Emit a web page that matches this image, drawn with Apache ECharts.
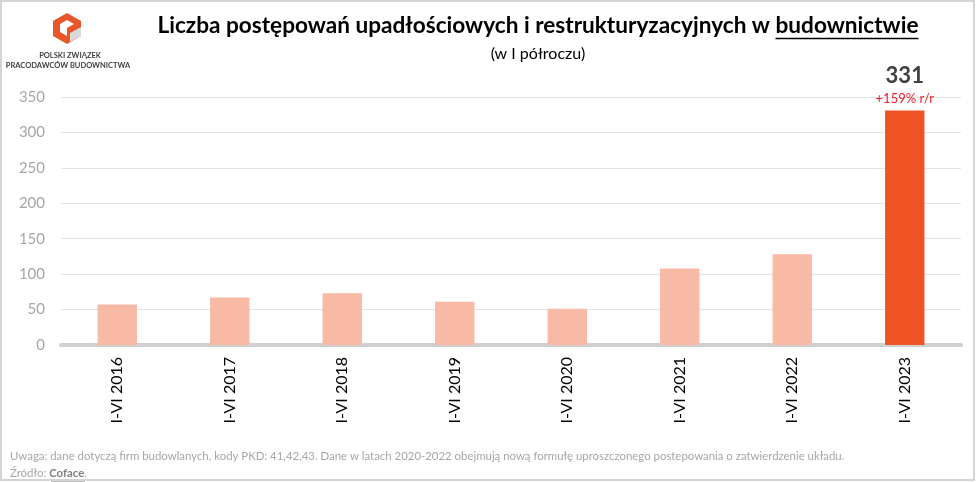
<!DOCTYPE html>
<html lang="pl">
<head>
<meta charset="UTF-8">
<title>Postępowania upadłościowe w budownictwie</title>
<script src="https://cdn.jsdelivr.net/npm/echarts@6/dist/echarts.min.js"></script>
<style>
  html, body { margin: 0; padding: 0; background: #fff; }
  #main { width: 976px; height: 482px; }
</style>
</head>
<body>
<div id="main"></div>
<script>
// dane
var kategorie = ['I-VI 2016', 'I-VI 2017', 'I-VI 2018', 'I-VI 2019', 'I-VI 2020', 'I-VI 2021', 'I-VI 2022', 'I-VI 2023'];
var wartosci = [57, 67, 73, 61, 51, 108, 128, 331];
var zmiana = '+159% r/r';
var osY = { min: 0, max: 350, interval: 50 };

var FONT = 'Lato, "Open Sans", sans-serif';
var TYTUL_A = 'Liczba postępowań upadłościowych i restrukturyzacyjnych w ';
var TYTUL_B = 'budownictwie';
var TYTUL_FONT = 'bold 22.6px ' + FONT;

// szerokosci tekstu do podkreslenia
var ctx = document.createElement('canvas').getContext('2d');
ctx.font = TYTUL_FONT;
var wA = ctx.measureText(TYTUL_A).width;
var wB = ctx.measureText(TYTUL_B).width;
var x0 = 538 - (wA + wB) / 2;

var dane = wartosci.map(function (v, i) {
  var ostatni = i === wartosci.length - 1;
  return {
    value: v,
    itemStyle: { color: ostatni ? '#f05323' : '#f8b9a5' },
    label: ostatni ? {
      show: true,
      position: 'top',
      distance: 2,
      formatter: '{a|{c}}\n{b|' + zmiana + '}',
      rich: {
        a: { fontSize: 22, fontWeight: 'bold', color: '#404040', fontFamily: FONT, lineHeight: 26 },
        b: { fontSize: 13, color: '#e8202a', fontFamily: FONT, lineHeight: 20 }
      }
    } : { show: false }
  };
});

var myChart = echarts.init(document.getElementById('main'));
var option = {
  backgroundColor: '#fff',
  animation: false,
  grid: { left: 61, right: 15, top: 97, bottom: 137 },
  xAxis: {
    type: 'category',
    data: kategorie,
    axisLine: { lineStyle: { color: '#d0d0d0', width: 4 } },
    axisTick: { show: false },
    axisLabel: { rotate: 90, margin: 12, fontSize: 16, color: '#000', fontFamily: FONT }
  },
  yAxis: {
    type: 'value',
    min: osY.min,
    max: osY.max,
    interval: osY.interval,
    axisLine: { show: false },
    axisTick: { show: false },
    splitLine: { lineStyle: { color: '#e3e3e3', width: 1 } },
    axisLabel: { fontSize: 15, color: '#a6a6a6', margin: 16, fontFamily: FONT }
  },
  series: [{
    type: 'bar',
    data: dane,
    barWidth: '35%'
  }],
  graphic: [
    // ramka
    { type: 'rect', shape: { x: 1, y: 1, width: 973, height: 479 }, style: { fill: 'none', stroke: '#d4d4d4', lineWidth: 2 }, z: 100 },
    // tytul
    { type: 'text', x: 538, y: 14, style: { text: TYTUL_A + TYTUL_B, textAlign: 'center', fill: '#000', font: TYTUL_FONT } },
    { type: 'line', shape: { x1: x0 + wA, y1: 38.5, x2: x0 + wA + wB, y2: 38.5 }, style: { stroke: '#000', lineWidth: 1.5 } },
    { type: 'text', x: 538, y: 46, style: { text: '(w I półroczu)', textAlign: 'center', fill: '#000', font: '16px ' + FONT } },
    // logo
    { type: 'polygon', shape: { points: [[67, 13], [81, 21], [81, 36], [67, 44], [53, 36], [53, 21]] }, style: { fill: '#e8562a' } },
    { type: 'polygon', shape: { points: [[81, 27], [81, 36], [70, 42], [70, 33]] }, style: { fill: '#d9d9d9' } },
    { type: 'polygon', shape: { points: [[60, 24], [67, 20], [74, 24], [67, 28], [67, 36], [60, 32]] }, style: { fill: '#fff' } },
    { type: 'text', x: 70, y: 52, style: { text: 'POLSKI ZWIĄZEK', textAlign: 'center', fill: '#404040', font: 'bold 7.5px ' + FONT } },
    { type: 'text', x: 68, y: 62, style: { text: 'PRACODAWCÓW BUDOWNICTWA', textAlign: 'center', fill: '#404040', font: 'bold 7.5px ' + FONT } },
    // przypis
    { type: 'text', x: 10, y: 451, style: { text: 'Uwaga: dane dotyczą firm budowlanych, kody PKD: 41,42,43. Dane w latach 2020-2022 obejmują nową formułę uproszczonego postepowania o zatwierdzenie układu.', fill: '#a6a6a6', font: '11.4px ' + FONT } },
    { type: 'text', x: 10, y: 468, style: { text: '{n|Źródło: }{c|Coface}{n|.}', rich: { n: { fill: '#a6a6a6', fontSize: 11.4, fontFamily: FONT }, c: { fill: '#808080', fontSize: 11.4, fontWeight: 'bold', fontFamily: FONT } } } },
    { type: 'line', shape: { x1: 51, y1: 481, x2: 85, y2: 481 }, style: { stroke: '#808080', lineWidth: 1 } }
  ]
};
myChart.setOption(option);
</script>
</body>
</html>
